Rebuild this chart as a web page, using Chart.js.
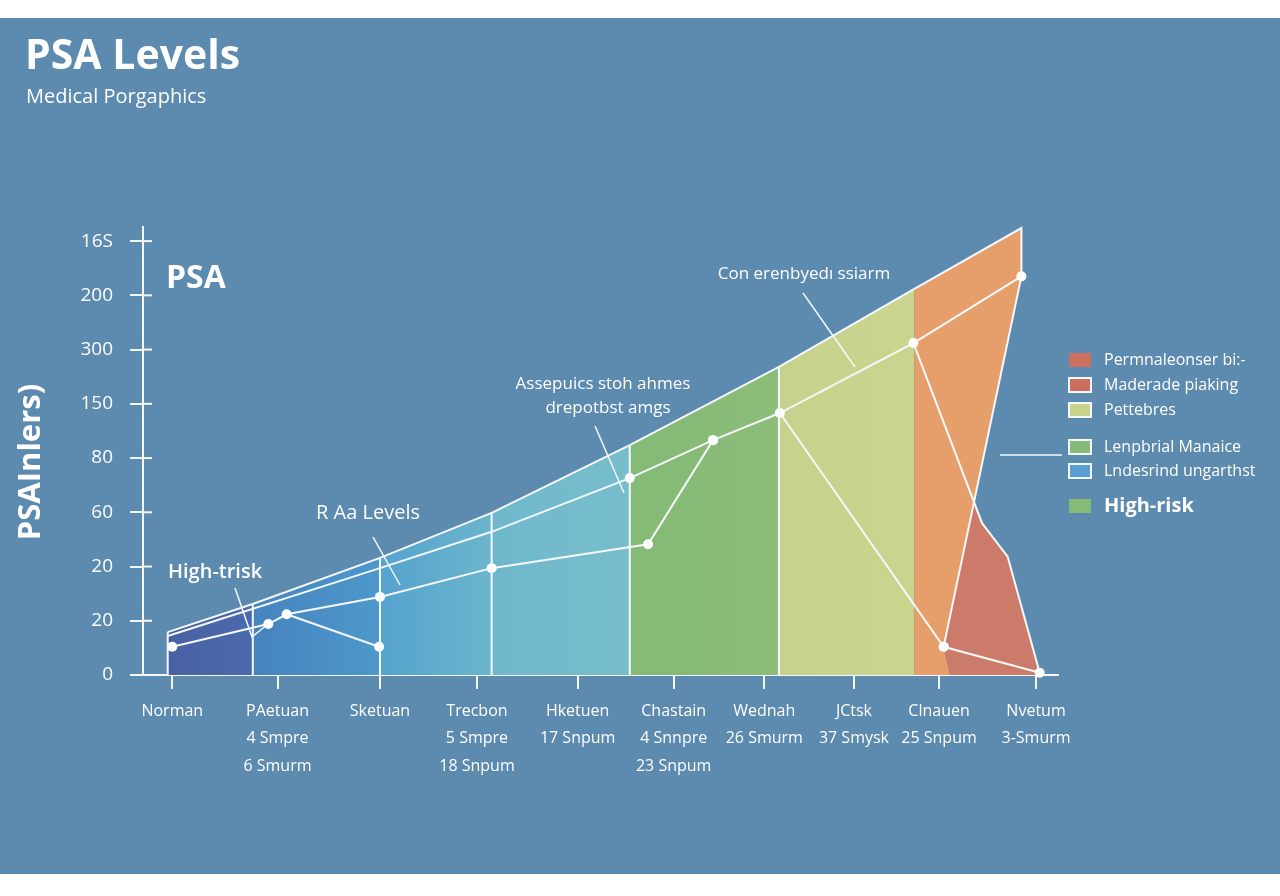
<!DOCTYPE html>
<html>
<head>
<meta charset="utf-8">
<title>PSA Levels</title>
<script src="https://cdn.jsdelivr.net/npm/chart.js@4.4.1/dist/chart.umd.min.js"></script>
<style>
  html, body { margin: 0; padding: 0; background: #ffffff; }
  #wrap { width: 1280px; height: 896px; position: relative; }
</style>
</head>
<body>
<div id="wrap"><canvas id="psaChart" width="1280" height="896"></canvas></div>
<script>
// categories (multi-line tick labels) and where they sit on the x axis
const xCategories = [
  ['Norman'],
  ['PAetuan', '4 Smpre', '6 Smurm'],
  ['Sketuan'],
  ['Trecbon', '5 Smpre', '18 Snpum'],
  ['Hketuen', '17 Snpum'],
  ['Chastain', '4 Snnpre', '23 Snpum'],
  ['Wednah', '26 Smurm'],
  ['JCtsk', '37 Smysk'],
  ['Clnauen', '25 Snpum'],
  ['Nvetum', '3-Smurm'],
];
const xTickPos = [0.32, 1.47, 2.59, 3.65, 4.75, 5.8, 6.79, 7.77, 8.7, 9.76];

const yTickLabels = ['0', '20', '20', '60', '80', '150', '300', '200', '16S'];

// stacked colour bands: edges along x and the upper envelope at each edge
const bandEdges = [0.27, 1.2, 2.59, 3.81, 5.32, 6.95, 8.43];
const envelope = [0.79, 1.31, 2.16, 2.99, 4.24, 5.68, 7.12];
const peakX = [9.6, 9.6];
const peakY = [8.24, 7.35];

// white series lines
const seriesBX = [0.27, 2.59, 3.81, 5.32, 6.23, 6.96, 8.42, 9.6, 8.75];
const seriesBY = [0.72, 1.97, 2.64, 3.63, 4.33, 4.83, 6.12, 7.35, 0.52];
const seriesCX = [0.32, 1.37, 1.57, 2.59, 3.81, 5.52, 6.23];
const seriesCY = [0.52, 0.94, 1.12, 1.44, 1.97, 2.41, 4.33];
const seriesDX = [1.57, 2.58];
const seriesDY = [1.12, 0.52];
const seriesEX = [6.96, 8.75, 9.8];
const seriesEY = [4.83, 0.52, 0.04];
const seriesFX = [8.42, 9.17, 9.45, 9.8];
const seriesFY = [6.12, 2.8, 2.18, 0.04];

// orange and red areas on the right
const orangeX = [8.43, 8.43, 9.6, 9.6, 8.75, 8.82];
const orangeY = [0, 7.12, 8.24, 7.35, 0.52, 0];
const redX = [9.08, 9.17, 9.45, 9.8, 9.8, 8.82, 8.75];
const redY = [3.19, 2.8, 2.18, 0.04, 0, 0, 0.52];

const bandColors = [
  ['#4861a3', '#4b6aae'],
  ['#4683c0', '#4d98ca'],
  ['#55a3cf', '#6bb5cc'],
  ['#6fb8cc', '#77bdcc'],
  ['#83ba76', '#8bbd79'],
  ['#c6d28b', '#cad48f'],
];

const legendItems = [
  { label: 'Permnaleonser bi:-', color: '#cb705f', border: false, y: 360 },
  { label: 'Maderade piaking', color: '#cc6d5d', border: true, y: 385 },
  { label: 'Pettebres', color: '#c8d48c', border: true, y: 410 },
  { label: 'Lenpbrial Manaice', color: '#86bb77', border: true, y: 447 },
  { label: 'Lndesrind ungarthst', color: '#5a9fd0', border: true, y: 471 },
  { label: 'High-risk', color: '#86bb77', border: false, y: 506, bold: true },
];

const FONT = "'Open Sans', 'Noto Sans', sans-serif";
const WHITE = '#f5f8fb';

function pts(xs, ys) {
  return xs.map((x, i) => ({ x, y: ys[i] }));
}

function closed(xs, ys) {
  const p = pts(xs, ys);
  p.push({ x: xs[0], y: ys[0] });
  return p;
}

function bandDataset(i) {
  const x0 = bandEdges[i];
  const x1 = bandEdges[i + 1];
  return {
    data: closed([x0, x0, x1, x1], [0, envelope[i], envelope[i + 1], 0]),
    borderWidth: 0,
    pointRadius: 0,
    fill: 'shape',
    order: 10,
    backgroundColor(ctx) {
      const chart = ctx.chart;
      if (!chart.chartArea) return bandColors[i][0];
      const sx = chart.scales.x;
      const g = chart.ctx.createLinearGradient(sx.getPixelForValue(x0), 0, sx.getPixelForValue(x1), 0);
      g.addColorStop(0, bandColors[i][0]);
      g.addColorStop(1, bandColors[i][1]);
      return g;
    },
  };
}

function areaDataset(xs, ys, color, order) {
  return { data: closed(xs, ys), backgroundColor: color, borderWidth: 0, pointRadius: 0, fill: 'shape', order };
}

function whiteLine(data, radius) {
  return {
    data,
    borderColor: WHITE,
    borderWidth: 2,
    pointRadius: radius,
    pointBackgroundColor: '#ffffff',
    pointBorderWidth: 0,
    fill: false,
    clip: false,
    order: 0,
  };
}

const bands = bandEdges.slice(0, -1).map((_, i) => bandDataset(i));

const envelopeLine = pts(bandEdges.concat(peakX), envelope.concat(peakY));
const dividerPts = [];
bandEdges.slice(0, -1).forEach((x, i) => {
  dividerPts.push({ x, y: 0 }, { x, y: envelope[i] }, { x, y: null });
});

const bgPlugin = {
  id: 'bg',
  beforeDraw(chart) {
    const c = chart.ctx;
    c.save();
    c.fillStyle = '#ffffff';
    c.fillRect(0, 0, chart.width, chart.height);
    c.fillStyle = '#5d8aaf';
    c.fillRect(0, 18, chart.width, 856);
    c.restore();
  },
};

function text(c, str, x, y, size, weight, align) {
  c.font = `${weight} ${size}px ${FONT}`;
  c.textAlign = align || 'left';
  c.textBaseline = 'middle';
  c.fillText(str, x, y);
}

function seg(c, points) {
  c.beginPath();
  points.forEach(([x, y], i) => (i ? c.lineTo(x, y) : c.moveTo(x, y)));
  c.stroke();
}

const decorPlugin = {
  id: 'decor',
  afterDraw(chart) {
    const c = chart.ctx;
    const { left, bottom } = chart.chartArea;
    c.save();
    c.strokeStyle = WHITE;
    c.fillStyle = '#ffffff';
    c.lineWidth = 2;

    // inner half of the y tick marks and the axis stub left of the origin
    chart.scales.y.ticks.forEach((t) => {
      const y = chart.scales.y.getPixelForValue(t.value);
      seg(c, [[left, y], [left + 9, y]]);
    });
    seg(c, [[130, bottom], [left, bottom]]);

    // titles
    text(c, 'PSA Levels', 25, 57, 41, 700);
    text(c, 'Medical Porgaphics', 26, 97, 20, 400);

    // rotated y axis title
    c.save();
    c.translate(31, 462);
    c.rotate(-Math.PI / 2);
    text(c, 'PSAInlers)', 0, 0, 31, 700, 'center');
    c.restore();

    // annotations
    text(c, 'PSA', 166, 279, 32, 700);
    text(c, 'High-trisk', 168, 572, 20, 600);
    text(c, 'R Aa Levels', 316, 513, 20, 500);
    text(c, 'Assepuics stoh ahmes', 603, 384, 17, 400, 'center');
    text(c, 'drepotbst amgs', 608, 408, 17, 400, 'center');
    text(c, 'Con erenbyedı ssiarm', 804, 274, 17, 400, 'center');

    c.lineWidth = 1.5;
    seg(c, [[235, 588], [252, 637], [268, 624]]);
    seg(c, [[373, 537], [400, 585]]);
    seg(c, [[595, 426], [624, 493]]);
    seg(c, [[803, 293], [855, 367]]);
    seg(c, [[1000, 455], [1062, 455]]);

    // legend
    legendItems.forEach((item) => {
      c.fillStyle = item.color;
      c.fillRect(1069, item.y - 7, 22, 14);
      if (item.border) {
        c.lineWidth = 2;
        c.strokeRect(1069, item.y - 7, 22, 14);
      }
      c.fillStyle = '#ffffff';
      if (item.bold) text(c, item.label, 1104, item.y, 20, 700);
      else text(c, item.label, 1104, item.y, 16, 400);
    });
    c.restore();
  },
};

new Chart(document.getElementById('psaChart'), {
  type: 'line',
  data: {
    datasets: [
      ...bands,
      areaDataset(orangeX, orangeY, '#e69f6a', 9),
      areaDataset(redX, redY, '#cc7a6a', 8),
      whiteLine(dividerPts, 0),
      whiteLine(envelopeLine, 0),
      whiteLine(pts(seriesBX, seriesBY), [0, 0, 0, 5, 5, 5, 5, 5, 5]),
      whiteLine(pts(seriesCX, seriesCY), 5),
      whiteLine(pts(seriesDX, seriesDY), [0, 5]),
      whiteLine(pts(seriesEX, seriesEY), [0, 5, 5]),
      whiteLine(pts(seriesFX, seriesFY), 0),
    ],
  },
  options: {
    responsive: false,
    animation: false,
    devicePixelRatio: 1,
    layout: { padding: { left: 0, right: 222, top: 227, bottom: 0 } },
    plugins: { legend: { display: false }, tooltip: { enabled: false } },
    scales: {
      x: {
        type: 'linear',
        min: 0,
        max: 10,
        afterFit(scale) { scale.height = 221; },
        afterBuildTicks(scale) { scale.ticks = xTickPos.map((value) => ({ value })); },
        border: { display: true, color: WHITE, width: 2 },
        grid: { display: true, drawOnChartArea: false, drawTicks: true, tickLength: 14, color: WHITE, lineWidth: 2 },
        ticks: {
          color: '#ffffff',
          padding: 9,
          maxRotation: 0,
          autoSkip: false,
          font: { family: FONT, size: 16, lineHeight: 1.7 },
          callback: (value, index) => xCategories[index],
        },
      },
      y: {
        type: 'linear',
        min: 0,
        max: 8.26,
        afterFit(scale) { scale.width = 143; },
        afterBuildTicks(scale) { scale.ticks = yTickLabels.map((_, value) => ({ value })); },
        border: { display: true, color: WHITE, width: 2 },
        grid: { display: true, drawOnChartArea: false, drawTicks: true, tickLength: 13, color: WHITE, lineWidth: 2 },
        ticks: {
          color: '#ffffff',
          padding: 17,
          autoSkip: false,
          font: { family: FONT, size: 19 },
          callback: (value) => yTickLabels[value],
        },
      },
    },
  },
  plugins: [bgPlugin, decorPlugin],
});
</script>
</body>
</html>
